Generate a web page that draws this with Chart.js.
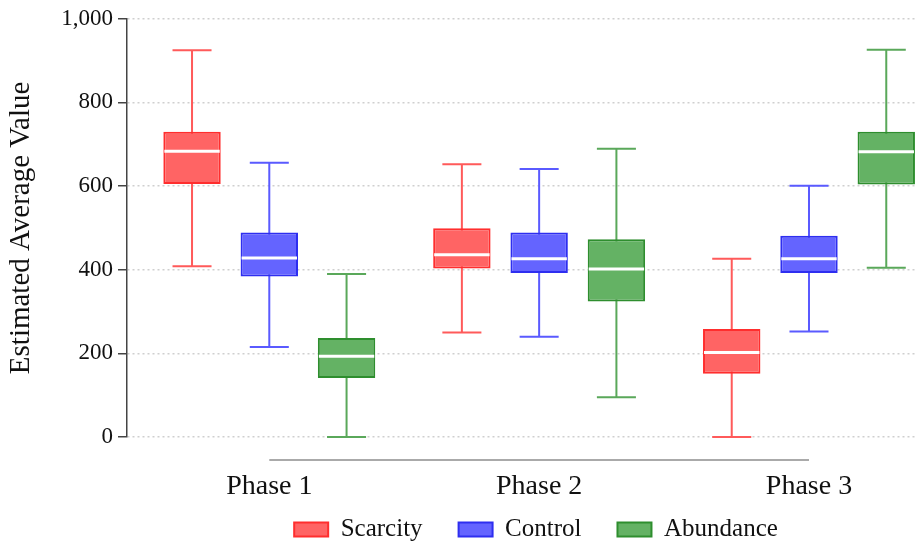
<!DOCTYPE html>
<html>
<head>
<meta charset="utf-8">
<script src="https://cdn.jsdelivr.net/npm/chart.js@4.4.7/dist/chart.umd.min.js"></script>
<style>
  html, body { margin: 0; padding: 0; background: #fff; overflow: hidden; }
  #wrap { width: 945px; height: 552px; }
</style>
</head>
<body>
<div id="wrap"><canvas id="chart"></canvas></div>
<script>
const phases = ["Phase 1", "Phase 2", "Phase 3"]
const phasePositions = [1, 2, 3]
const yTicks = [0, 200, 400, 600, 800, 1000]

// five-number summaries per phase: [min, q1, median, q3, max]
const scarcity = [[408, 605, 683, 730, 925], [250, 403, 436, 499, 652], [0, 151, 202, 258, 426]]
const control = [[215, 384, 428, 489, 656], [240, 392, 426, 489, 641], [252, 392, 426, 481, 601]]
const abundance = [[0, 141, 193, 237, 390], [95, 324, 402, 473, 689], [405, 604, 682, 730, 926]]

const serif = "'Liberation Serif', 'Times New Roman', serif"

function boxDataset(label, stats, fill, border, whisker) {
  return {
    label,
    stats,
    whiskerColor: whisker,
    data: stats.map((s, i) => ({ x: phasePositions[i], y: [s[1], s[3]] })),
    backgroundColor: fill,
    borderColor: border,
    borderWidth: 2,
    borderSkipped: false,
    categoryPercentage: 0.859,
    barPercentage: 0.743
  }
}

const boxPlugin = {
  id: "boxParts",
  beforeDatasetsDraw(chart) {
    const { ctx, scales: { y } } = chart
    chart.data.datasets.forEach((ds, di) => {
      chart.getDatasetMeta(di).data.forEach((bar, i) => {
        const [lo, , , , hi] = ds.stats[i]
        const half = bar.width * 0.34
        const yLo = y.getPixelForValue(lo)
        const yHi = y.getPixelForValue(hi)
        ctx.save()
        ctx.strokeStyle = ds.whiskerColor
        ctx.lineWidth = 2
        ctx.beginPath()
        ctx.moveTo(bar.x, yLo)
        ctx.lineTo(bar.x, yHi)
        ctx.moveTo(bar.x - half, yLo)
        ctx.lineTo(bar.x + half, yLo)
        ctx.moveTo(bar.x - half, yHi)
        ctx.lineTo(bar.x + half, yHi)
        ctx.stroke()
        ctx.restore()
      })
    })
  },
  afterDatasetsDraw(chart) {
    const { ctx, scales: { x, y } } = chart
    chart.data.datasets.forEach((ds, di) => {
      chart.getDatasetMeta(di).data.forEach((bar, i) => {
        const yMed = y.getPixelForValue(ds.stats[i][2])
        ctx.save()
        ctx.strokeStyle = "#ffffff"
        ctx.lineWidth = 3
        ctx.beginPath()
        ctx.moveTo(bar.x - bar.width / 2 + 1, yMed)
        ctx.lineTo(bar.x + bar.width / 2 - 1, yMed)
        ctx.stroke()
        ctx.restore()
      })
    })
    // x axis line runs from first to last phase
    const axisY = x.top + 23
    ctx.save()
    ctx.strokeStyle = "#aaaaaa"
    ctx.lineWidth = 2
    ctx.beginPath()
    ctx.moveTo(x.getPixelForValue(phasePositions[0]), axisY)
    ctx.lineTo(x.getPixelForValue(phasePositions[phasePositions.length - 1]), axisY)
    ctx.stroke()
    ctx.restore()
  }
}

new Chart(document.getElementById("chart"), {
  type: "bar",
  data: {
    datasets: [
      boxDataset("Scarcity", scarcity, "#ff6464", "#ff2e2e", "#ff5a5a"),
      boxDataset("Control", control, "#6464ff", "#2e2ef0", "#5a5aff"),
      boxDataset("Abundance", abundance, "#64b264", "#2e8e2e", "#5aa85a")
    ]
  },
  options: {
    responsive: true,
    maintainAspectRatio: false,
    animation: false,
    layout: { padding: { top: 10, left: 0, right: 0, bottom: 0 } },
    plugins: {
      tooltip: { enabled: false },
      legend: {
        position: "bottom",
        fullSize: false,
        labels: {
          boxWidth: 34,
          boxHeight: 14,
          padding: 36,
          color: "#111",
          font: { family: serif, size: 25 }
        }
      }
    },
    scales: {
      x: {
        type: "linear",
        min: 0.4727,
        max: 3.504,
        offset: false,
        bounds: "data",
        afterBuildTicks: scale => { scale.ticks = phasePositions.map(v => ({ value: v })) },
        afterFit: scale => { scale.height = 44 },
        grid: { display: false, drawTicks: false },
        border: { display: false },
        ticks: {
          mirror: true,
          padding: -66,
          color: "#111",
          font: { family: serif, size: 28 },
          callback: (v, i) => phases[i]
        }
      },
      y: {
        min: 0,
        max: 1000,
        afterBuildTicks: scale => { scale.ticks = yTicks.map(v => ({ value: v })) },
        afterFit: scale => { scale.width = 127 },
        grid: {
          color: "#cfcfcf",
          lineWidth: 1.5,
          tickLength: 9,
          tickColor: "#444",
          tickWidth: 1.5
        },
        border: { display: true, color: "#444", width: 1.5, dash: [2, 3] },
        ticks: {
          padding: 5,
          color: "#111",
          font: { family: serif, size: 23 },
          callback: v => v.toLocaleString("en-US")
        },
        title: {
          display: true,
          text: "Estimated Average Value",
          color: "#111",
          font: { family: serif, size: 29 },
          padding: { top: 4, bottom: 0 }
        }
      }
    }
  },
  plugins: [boxPlugin]
})
</script>
</body>
</html>
